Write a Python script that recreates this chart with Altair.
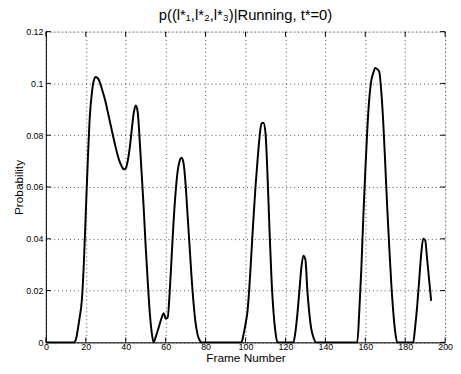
import altair as alt
import pandas as pd

frames = [0, 5, 10, 14, 15, 16, 17, 18, 19, 20, 21, 22, 23, 24, 25, 26, 27, 28, 29, 30, 31, 32, 33, 34, 35,
          36, 37, 38, 39, 40,
          41, 42, 43, 44, 45, 46, 47, 48, 49, 50, 51, 52, 53, 54, 55, 56, 57, 58, 59, 60, 61, 62, 63, 64,
          65, 66, 67, 68, 69, 70, 71, 72, 73, 74, 75, 76, 77, 78, 90, 98,
          99, 100, 101, 102, 103, 104, 105, 106, 107, 108, 109, 110, 111, 112, 113, 114, 115, 116, 124,
          125, 126, 127, 128, 129, 130, 131, 132, 133, 134, 135.5, 145, 156,
          157, 158, 159, 160, 161, 162, 163, 164, 165, 166, 167, 168, 169, 170, 171, 172, 173, 174, 175, 176,
          184, 185, 186, 187, 188, 189, 190, 191, 192, 193]
probs = [0, 0, 0, 0, 0.001, 0.005, 0.010, 0.016, 0.030, 0.050, 0.070, 0.087, 0.096, 0.101, 0.1025, 0.1020,
         0.1005, 0.098, 0.0955, 0.0925, 0.089, 0.0855, 0.082, 0.0785, 0.0752,
         0.0722, 0.0697, 0.068, 0.0668, 0.0672,
         0.070, 0.075, 0.082, 0.0885, 0.0915, 0.089, 0.078, 0.065, 0.052, 0.037, 0.024, 0.012, 0.004, 0.0,
         0.002, 0.0045, 0.007, 0.0095, 0.0113, 0.0092, 0.0095, 0.019, 0.033, 0.047,
         0.058, 0.066, 0.070, 0.0713, 0.069, 0.061, 0.049, 0.037, 0.025, 0.015, 0.0075, 0.003, 0.0008, 0, 0, 0,
         0.003, 0.007, 0.012, 0.022, 0.035, 0.048, 0.060, 0.070, 0.079, 0.0845, 0.0848, 0.081, 0.065, 0.044,
         0.025, 0.012, 0.004, 0, 0,
         0.004, 0.011, 0.020, 0.029, 0.0335, 0.032, 0.020, 0.011, 0.005, 0.002, 0, 0, 0,
         0.012, 0.028, 0.048, 0.066, 0.082, 0.094, 0.101, 0.104, 0.106, 0.1055, 0.1045, 0.097, 0.085, 0.069,
         0.052, 0.037, 0.023, 0.012, 0.004, 0,
         0, 0.006, 0.014, 0.024, 0.034, 0.0400, 0.0395, 0.032, 0.024, 0.016]

x_ticks = [0, 20, 40, 60, 80, 100, 120, 140, 160, 180, 200]
y_ticks = [0, 0.02, 0.04, 0.06, 0.08, 0.1, 0.12]

W, H = 406, 316
FONT = "Liberation Sans"

df = pd.DataFrame({"frame": frames, "p": probs})
xt = pd.DataFrame({"t": x_ticks})
yt = pd.DataFrame({"t": y_ticks})

xscale = alt.Scale(domain=[0, 200], nice=False)
yscale = alt.Scale(domain=[0, 0.12], nice=False)

line = alt.Chart(df).mark_line(color="black", strokeWidth=2, interpolate="monotone").encode(
    x=alt.X("frame:Q", scale=xscale,
            axis=alt.Axis(values=x_ticks, title="Frame Number", grid=True, gridDash=[1, 3],
                          gridColor="#000000", gridOpacity=0.7, tickSize=0, labelPadding=0,
                          labelFontSize=9, labelFont=FONT, labelColor="#000", titleFont=FONT,
                          titleFontSize=12, titleFontWeight="normal", titlePadding=1,
                          titleColor="#000", domainColor="#000", labelFlush=False)),
    y=alt.Y("p:Q", scale=yscale,
            axis=alt.Axis(values=y_ticks, title="Probability", grid=True, gridDash=[1, 3],
                          gridColor="#000000", gridOpacity=0.7, tickSize=0, labelPadding=3,
                          labelFontSize=9, labelFont=FONT, labelColor="#000", titleFont=FONT,
                          titleFontSize=12, titleFontWeight="normal", titlePadding=0,
                          titleColor="#000", domainColor="#000", labelFlush=False,
                          labelExpr="format(datum.value, '~g')")),
)

xtick_b = alt.Chart(xt).mark_rule(color="black", strokeWidth=1).encode(
    x=alt.X("t:Q", scale=xscale), y=alt.value(H), y2=alt.value(H - 5))
xtick_t = alt.Chart(xt).mark_rule(color="black", strokeWidth=1).encode(
    x=alt.X("t:Q", scale=xscale), y=alt.value(0), y2=alt.value(5))
ytick_l = alt.Chart(yt).mark_rule(color="black", strokeWidth=1).encode(
    y=alt.Y("t:Q", scale=yscale), x=alt.value(0), x2=alt.value(5))
ytick_r = alt.Chart(yt).mark_rule(color="black", strokeWidth=1).encode(
    y=alt.Y("t:Q", scale=yscale), x=alt.value(W), x2=alt.value(W - 5))

chart = alt.layer(line, xtick_b, xtick_t, ytick_l, ytick_r).properties(
    width=W, height=H,
    title=alt.TitleParams("p((l*₁,l*₂,l*₃)|Running, t*=0)", font=FONT, fontSize=15,
                          fontWeight="normal", color="#000", offset=5, anchor="middle"),
    padding={"left": 38.5, "top": 21, "right": 8, "bottom": 20},
    autosize=alt.AutoSizeParams(type="none"),
).configure_view(stroke="black", strokeWidth=1).configure(background="white")

chart.save("out.html", embed_options={"renderer": "svg", "actions": False})
